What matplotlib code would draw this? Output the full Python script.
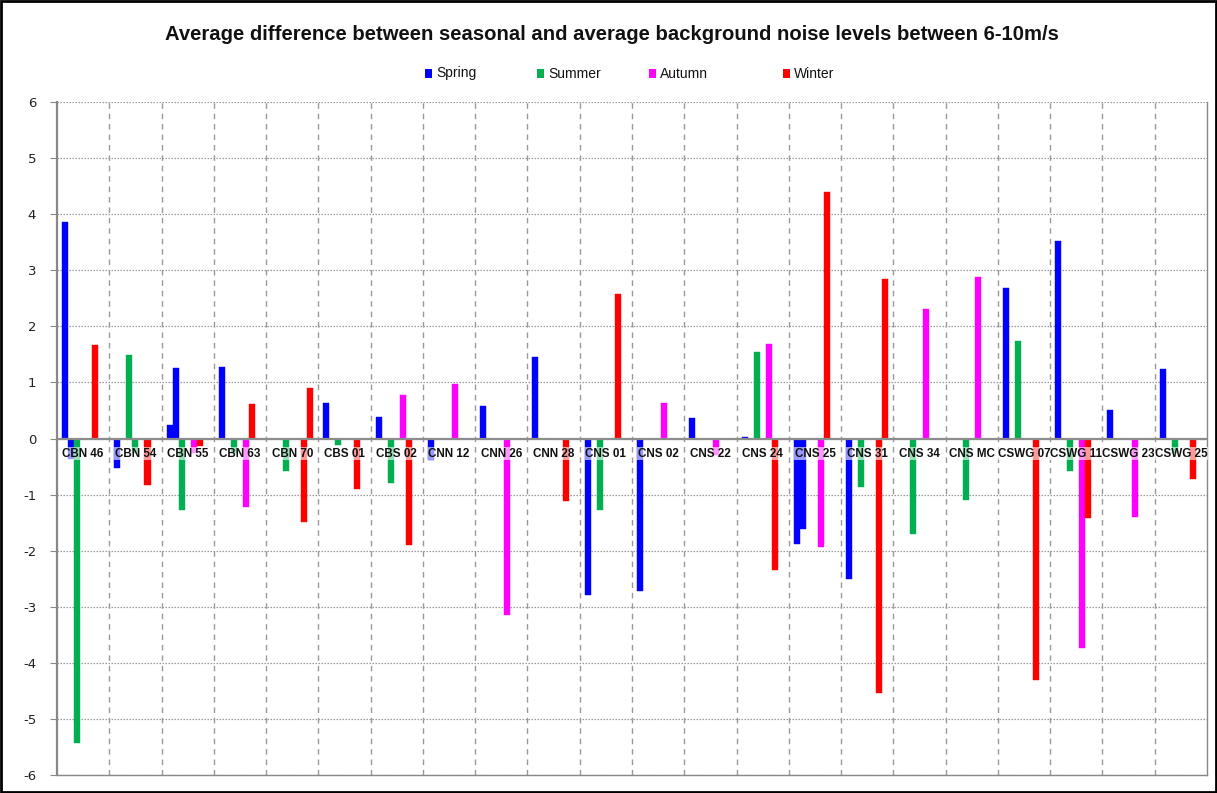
import numpy as np
import matplotlib
matplotlib.use("Agg")
import matplotlib.pyplot as plt
from matplotlib.patches import Rectangle

nan = np.nan

categories = ["CBN 46", "CBN 54", "CBN 55", "CBN 63", "CBN 70", "CBS 01", "CBS 02",
              "CNN 12", "CNN 26", "CNN 28", "CNS 01", "CNS 02", "CNS 22", "CNS 24",
              "CNS 25", "CNS 31", "CNS 34", "CNS MC", "CSWG 07", "CSWG 11",
              "CSWG 23", "CSWG 25"]

spring_a = [3.86, -0.52, 0.24, 1.28, nan, 0.63, 0.38, -0.39, 0.575, 1.45, -2.79,
            -2.72, 0.37, 0.03, -1.89, -2.51, nan, nan, 2.69, 3.53, 0.51, 1.24]
spring_b = [-0.36, nan, 1.25, nan, nan, nan, nan, nan, nan, nan, nan,
            nan, nan, nan, -1.61, nan, nan, nan, nan, nan, nan, nan]
summer_a = [-5.43, 1.48, -1.27, -0.26, -0.58, -0.12, -0.80, nan, nan, nan, -1.27,
            nan, nan, 1.55, nan, -0.87, -1.71, -1.10, 1.74, -0.58, nan, -0.26]
summer_b = [nan, -0.26, nan, nan, nan, nan, nan, nan, nan, nan, nan,
            nan, nan, nan, nan, nan, nan, nan, nan, nan, nan, nan]
autumn = [nan, nan, -0.26, -1.23, nan, nan, 0.77, 0.97, -3.14, nan, nan,
          0.64, -0.30, 1.68, -1.94, nan, 2.31, 2.88, nan, -3.74, -1.40, nan]
winter_a = [1.66, -0.83, -0.14, 0.62, -1.48, -0.90, -1.90, nan, nan, -1.12, 2.57,
            nan, nan, -2.35, 4.39, -4.53, nan, nan, -4.31, -1.42, nan, -0.72]
winter_b = [nan, nan, nan, nan, 0.90, nan, nan, nan, nan, nan, nan,
            nan, nan, nan, nan, 2.84, nan, nan, nan, nan, nan, nan]

legend_labels = ["Spring", "Summer", "Autumn", "Winter"]
yticks = list(range(-6, 7))

BLUE, GREEN, MAGENTA, RED = "#0000FF", "#00B050", "#FF00FF", "#FF0000"
series = [(spring_a, BLUE), (spring_b, BLUE), (summer_a, GREEN), (summer_b, GREEN),
          (autumn, MAGENTA), (winter_a, RED), (winter_b, RED)]

W, H = 1217, 793
fig = plt.figure(figsize=(W / 100, H / 100), dpi=100)
ax = fig.add_axes([57 / W, 1 - 775 / H, (1207 - 57) / W, (775 - 102) / H])

x = np.arange(len(categories))
nslot = len(series)
group = 0.81
bw = group / nslot
for k, (vals, col) in enumerate(series):
    off = -group / 2 + bw * (k + 0.5)
    ax.bar(x + off, np.array(vals, dtype=float), width=bw, color=col,
           edgecolor=col, linewidth=0.3, zorder=3)

ax.set_xlim(-0.5, len(categories) - 0.5)
ax.set_ylim(-6, 6)
ax.set_yticks(yticks)
ax.set_yticklabels([str(v) for v in yticks], fontsize=9.5, family="DejaVu Sans",
                   color="#222222")
ax.tick_params(axis="y", length=5, width=0.8, color="#888888", pad=10)
ax.set_xticks([])

# gridlines
for v in yticks:
    ax.axhline(v, color="#999999", lw=0.9, ls=(0, (1.2, 1.2)), zorder=1)
for i in range(len(categories) - 1):
    ax.axvline(i + 0.5, color="#999999", lw=1.0, ls=(0, (4, 3.5)), zorder=1)
ax.axhline(0, color="#8c8c8c", lw=1.6, zorder=4)

for s in ax.spines.values():
    s.set_color("#888888")
    s.set_linewidth(1.0)
ax.spines["left"].set_linewidth(1.6)
ax.spines["top"].set_visible(False)

for i, c in enumerate(categories):
    ax.annotate(c, xy=(i, 0), xytext=(0, -11), textcoords="offset points",
                ha="center", va="center", fontsize=8.4, fontweight="bold",
                family="Liberation Sans", color="#111111", zorder=6,
                bbox=dict(fc="white", ec="none", alpha=0.6, pad=0.3))

fig.text(612 / W, 1 - 34 / H,
         "Average difference between seasonal and average background noise levels between 6-10m/s",
         ha="center", va="center", fontsize=14.6, fontweight="bold",
         family="Liberation Sans", color="#111111")

leg_x = [425, 537, 649, 783]
for lx, lab, col in zip(leg_x, legend_labels, [BLUE, GREEN, MAGENTA, RED]):
    fig.patches.append(Rectangle((lx / W, 1 - 78 / H), 7 / W, 9 / H,
                                 transform=fig.transFigure, fc=col, ec="none"))
    fig.text((lx + 11) / W, 1 - 73.5 / H, lab, ha="left", va="center",
             fontsize=10, family="Liberation Sans", color="#111111")

fig.patches.append(Rectangle((0.001, 0.001), 0.998, 0.998, transform=fig.transFigure,
                             fc="none", ec="black", lw=2.0))

fig.savefig("out.png", dpi=100, facecolor="white")
